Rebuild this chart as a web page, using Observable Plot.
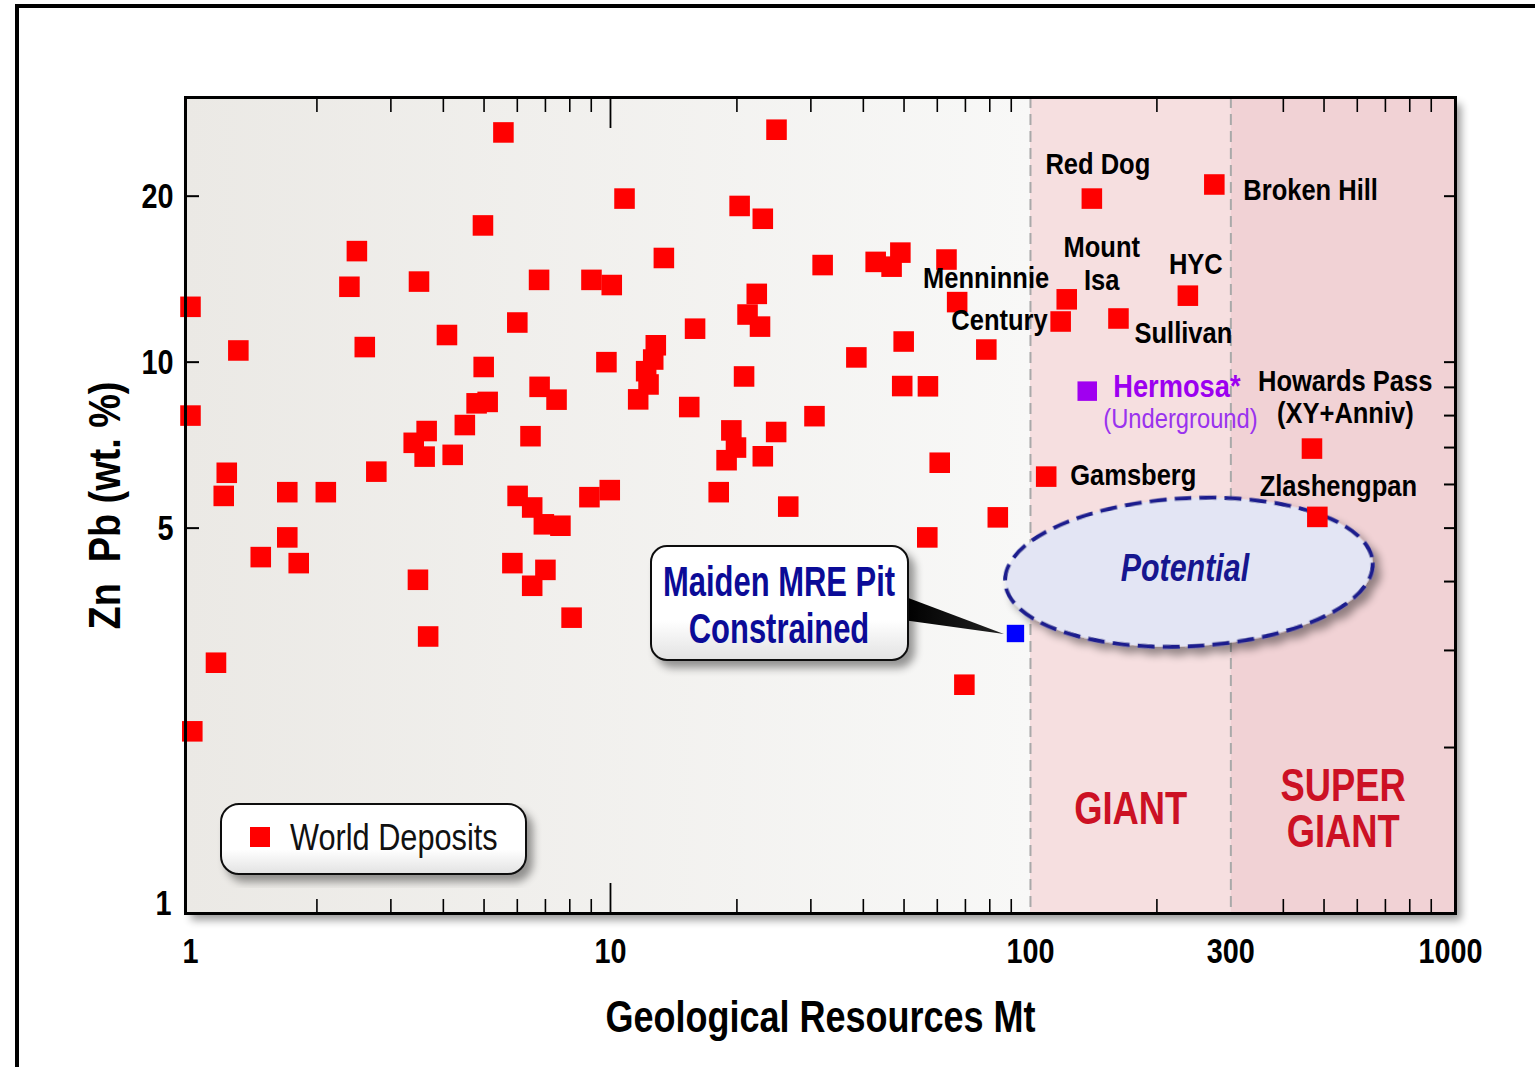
<!DOCTYPE html>
<html><head><meta charset="utf-8">
<script src="https://cdn.jsdelivr.net/npm/d3@7"></script>
<script src="https://cdn.jsdelivr.net/npm/@observablehq/plot@0.6"></script>
<style>
html,body{margin:0;padding:0;background:#fff;overflow:hidden;width:1535px;height:1067px;}
#chart{position:absolute;left:0;top:0;}
#outer{position:absolute;left:15px;top:4px;width:1700px;height:1300px;border-top:4px solid #000;border-left:4px solid #000;box-sizing:border-box;pointer-events:none;}
svg text{white-space:pre;}
</style></head><body>
<div id="chart"></div><div id="outer"></div>
<script>
// ---------- data ----------
const worldRes = [1.0,1.0,1.01,1.15,1.22,1.2,1.3,1.47,1.7,1.7,1.81,2.1,2.39,2.49,2.6,2.77,3.5,3.48,3.4,3.68,3.65,3.61,4.08,4.21,4.5,4.8,5.1,4.99,4.97,5.56,6.0,5.84,6.01,6.51,6.45,6.51,6.94,7.0,7.6,6.78,6.76,7.44,8.08,9.01,8.91,9.78,9.96,10.07,10.8,11.64,12.32,12.16,12.64,12.82,13.4,15.9,15.4,18.1,18.9,19.4,19.9,20.3,20.8,21.2,22.3,22.7,23.05,23.05,24.85,24.8,26.5,30.6,32.0,38.5,42.8,46.7,49.0,49.9,49.5,56.8,57.0,60.8,63.1,69.6,78.5,83.6];
const worldGrade = [12.6,8.0,2.14,2.85,6.3,5.72,10.5,4.43,4.81,5.81,4.32,5.81,13.7,15.9,10.65,6.33,14.0,4.03,7.14,3.18,7.5,6.74,11.2,6.79,7.69,8.42,8.47,9.8,17.7,26.1,11.8,4.32,5.72,3.93,7.34,5.45,5.08,4.2,5.05,9.02,14.1,8.55,3.44,14.1,5.69,10.0,5.86,13.8,19.8,8.56,9.11,9.63,10.11,10.73,15.45,11.5,8.29,5.81,6.64,7.52,7.0,19.2,9.42,12.2,13.3,11.6,18.2,6.75,26.4,7.47,5.47,7.98,15.0,10.2,15.2,14.9,15.8,10.9,9.05,4.81,9.04,6.57,15.35,2.6,10.54,5.23];
const namedNames = ["Red Dog","Broken Hill","Mount Isa","Century","Sullivan","HYC","Menninnie","Gamsberg","Howards Pass","Zlashengpan"];
const namedRes = [140,274,122,118,162,237,66.9,109,468,482];
const namedGrade = [19.8,21.0,13.0,11.85,12.0,13.2,12.85,6.2,6.97,5.24];
const hermosaName = "Hermosa*";
const hermosaRes = [136.5];
const hermosaGrade = [8.86];
const maidenLines = ["Maiden MRE Pit","Constrained"];
const maidenRes = [92.1];
const maidenGrade = [3.22];
const xTickLabels = [1,10,100,300,1000];
const yTickLabels = [5,10,20];
const yBottomLabel = [1];
const xMinorTicks = [2,3,4,5,6,7,8,9,20,30,40,50,60,70,80,90,200,400,500,600,700,800,900];
const xMajorTicks = [10];
const yRightTicks = [2,3,4,5,6,7,8,9,10,20];
const sizeClassNames = ["GIANT","SUPER\nGIANT"];
const sizeClassBounds = [100,300];
const potentialCenter = [239,4.15];
const xDomain = [0.973,1028];
const yDomain = [1,30.2];

// ---------- tables built from the arrays ----------
const world = worldRes.map((r,i)=>({res:r,grade:worldGrade[i]}));
const named = namedNames.map((n,i)=>({name:n,res:namedRes[i],grade:namedGrade[i]}));
const deposits = world.concat(named);
const hermosa = [{name:hermosaName,res:hermosaRes[0],grade:hermosaGrade[0]}];
const maiden = [{res:maidenRes[0],grade:maidenGrade[0]}];
const classTable = [
  {name:sizeClassNames[0], lo:sizeClassBounds[0], hi:sizeClassBounds[1]},
  {name:sizeClassNames[1], lo:sizeClassBounds[1], hi:xDomain[1]}
];
const byName = Object.fromEntries(named.map(d=>[d.name,d]));

// label layout (styling / offsets only)
const labelLayout = [
  {ref:"Red Dog", text:"Red Dog", dx:6, dy:-34, anchor:"middle"},
  {ref:"Broken Hill", text:"Broken Hill", dx:29, dy:6, anchor:"start"},
  {ref:"Mount Isa", text:"Mount", dx:35, dy:-52, anchor:"middle"},
  {ref:"Mount Isa", text:"Isa", dx:35, dy:-19, anchor:"middle"},
  {ref:"Menninnie", text:"Menninnie", dx:29, dy:-23, anchor:"middle"},
  {ref:"Century", text:"Century", dx:-13, dy:-1, anchor:"end"},
  {ref:"Sullivan", text:"Sullivan", dx:16, dy:15, anchor:"start"},
  {ref:"HYC", text:"HYC", dx:8, dy:-31, anchor:"middle"},
  {ref:"Gamsberg", text:"Gamsberg", dx:24, dy:-1, anchor:"start"},
  {ref:"Howards Pass", text:"Howards Pass", dx:-54, dy:-67, anchor:"start"},
  {ref:"Howards Pass", text:"(XY+Anniv)", dx:-35, dy:-35, anchor:"start"},
  {ref:"Zlashengpan", text:"Zlashengpan", dx:21, dy:-30, anchor:"middle"}
];

const FONT = "'Liberation Sans', Arial, Helvetica, sans-serif";
const RED = "#ff0000";
const tag = s => () => s;

const marks = [
  Plot.rect([0], {x1: ()=>xDomain[0], x2: ()=>sizeClassBounds[0], fill: "url(#leftGrad)"}),
  Plot.rect([classTable[0]], {x1:"lo", x2:"hi", fill:"#f6dfe0"}),
  Plot.rect([classTable[1]], {x1:"lo", x2:"hi", fill:"#f1d2d5"}),
  Plot.ruleX(sizeClassBounds, {stroke:"#a9a9a9", strokeWidth:2, strokeDasharray:"11,6"}),
  Plot.dot(deposits, {x:"res", y:"grade", symbol:"square", r:11.6, fill:RED, ariaLabel:tag("world-dot")}),
  Plot.dot(hermosa, {x:"res", y:"grade", symbol:"square", r:11.0, fill:"#a000f0"}),
  Plot.dot(maiden, {x:"res", y:"grade", symbol:"square", r:9.8, fill:"#0000ff"}),
  ...labelLayout.map(l => Plot.text([byName[l.ref]], {x:"res", y:"grade", text:tag(l.text), dx:l.dx, dy:l.dy, textAnchor:l.anchor, fontSize:29, fontWeight:"bold", fill:"#000", ariaLabel:tag("deposit-label")})),
  Plot.text(hermosa, {x:"res", y:"grade", text:"name", dx:26, dy:-4, textAnchor:"start", fontSize:31, fontWeight:"bold", fill:"#9c00f0", ariaLabel:tag("deposit-label")}),
  Plot.text(hermosa, {x:"res", y:"grade", text:tag("(Underground)"), dx:16, dy:28, textAnchor:"start", fontSize:27, fontWeight:"normal", fill:"#9a33ee", ariaLabel:tag("deposit-label")}),
  Plot.text(classTable, {x: d=>Math.sqrt(d.lo*d.hi), frameAnchor:"bottom", lineAnchor:"middle", dy:-104, text:"name", fill:"#cc1124", fontSize:46, fontWeight:"bold", lineHeight:1.0, ariaLabel:tag("class-label")}),
  // axes
  Plot.axisX(xTickLabels, {anchor:"bottom", tickSize:0, tickPadding:24, fontSize:36, fontWeight:"bold", tickFormat:d=>String(d), label:null}),
  Plot.axisX(xMinorTicks, {anchor:"bottom", tickSize:-14, fill:"none", strokeWidth:1.6}),
  Plot.axisX(xMajorTicks, {anchor:"bottom", tickSize:-30, fill:"none", strokeWidth:1.8}),
  Plot.axisX(xMinorTicks, {anchor:"top", tickSize:-14, fill:"none", strokeWidth:1.6}),
  Plot.axisX(xMajorTicks, {anchor:"top", tickSize:-30, fill:"none", strokeWidth:1.8}),
  Plot.axisY(yTickLabels, {anchor:"left", tickSize:0, tickPadding:12, fontSize:36, fontWeight:"bold", tickFormat:d=>String(d), label:null}),
  Plot.axisY(yBottomLabel, {anchor:"left", tickSize:0, tickPadding:14, dy:-10, fontSize:36, fontWeight:"bold", tickFormat:d=>String(d), label:null}),
  Plot.axisY(yTickLabels, {anchor:"left", tickSize:-14, fill:"none", strokeWidth:2}),
  Plot.axisY(yRightTicks, {anchor:"right", tickSize:-12, fill:"none", strokeWidth:2}),
  Plot.text(["Geological Resources Mt"], {frameAnchor:"bottom", lineAnchor:"middle", textAnchor:"middle", dy:104, fontSize:45, fontWeight:"bold", fill:"#000", ariaLabel:tag("axis-title")}),
  Plot.text(["Zn  Pb (wt. %)"], {frameAnchor:"left", lineAnchor:"middle", textAnchor:"middle", dx:-80, rotate:-90, fontSize:44, fontWeight:"bold", fill:"#000", ariaLabel:tag("y-title")}),
  Plot.frame({stroke:"#000", strokeWidth:3})
];

const chart = Plot.plot({
  width:1535, height:1067,
  marginLeft:185, marginRight:80, marginTop:97, marginBottom:154,
  x:{type:"log", domain:xDomain, label:null},
  y:{type:"log", domain:yDomain, label:null},
  style:{fontFamily:FONT, background:"transparent", overflow:"visible", color:"#000"},
  marks
});
document.getElementById("chart").appendChild(chart);

// ---------- post-processing: defs, shadows, condensed type, annotations ----------
const svg = d3.select(chart);
const xs = chart.scale("x"), ys = chart.scale("y");
svg.insert("defs", ":first-child").html(`
<linearGradient id="leftGrad" x1="0" x2="1" y1="0" y2="0">
  <stop offset="0" stop-color="#ebe9e5"/><stop offset="1" stop-color="#f8f8f7"/>
</linearGradient>
<linearGradient id="boxGrad" x1="0" x2="0" y1="0" y2="1">
  <stop offset="0" stop-color="#ffffff"/><stop offset="0.65" stop-color="#ffffff"/><stop offset="1" stop-color="#e2e2e2"/>
</linearGradient>
<linearGradient id="wedgeGrad" x1="0" x2="1" y1="0" y2="0">
  <stop offset="0" stop-color="#000"/><stop offset="1" stop-color="#222"/>
</linearGradient>
<filter id="shadow" x="-10%" y="-10%" width="125%" height="130%">
  <feGaussianBlur in="SourceAlpha" stdDeviation="4"/>
  <feOffset dx="6" dy="7" result="o"/>
  <feComponentTransfer><feFuncA type="linear" slope="0.4"/></feComponentTransfer>
  <feMerge><feMergeNode/><feMergeNode in="SourceGraphic"/></feMerge>
</filter>`);

const [fx0, fx1] = xs.range, [fy1, fy0] = ys.range;
svg.insert("rect", "defs + *")
  .attr("x", fx0).attr("y", fy0).attr("width", fx1 - fx0).attr("height", fy1 - fy0)
  .attr("fill", "#fff").attr("filter", "url(#shadow)");

function squeeze(sel, k){
  sel.each(function(){
    const t = this.getAttribute("transform") || "";
    this.setAttribute("transform", t + ` scale(${k},1)`);
  });
}
squeeze(svg.selectAll('g[aria-label="x-axis tick label"] text, g[aria-label="y-axis tick label"] text'), 0.8);
squeeze(svg.selectAll('text[aria-label="axis-title"]'), 0.8);
squeeze(svg.selectAll('text[aria-label="y-title"]'), 0.86);
squeeze(svg.selectAll('text[aria-label="deposit-label"]'), 0.88);
squeeze(svg.selectAll('text[aria-label="class-label"]'), 0.79);

// Potential ellipse, behind the deposit squares
const dotNode = svg.select('[aria-label="world-dot"]').node();
const dotGroup = dotNode ? dotNode.parentNode : null;
const pcx = xs.apply(potentialCenter[0]), pcy = ys.apply(potentialCenter[1]);
const pot = dotGroup ? d3.select(dotGroup.parentNode).insert("g", () => dotGroup) : svg.append("g");
pot.append("ellipse").attr("cx", pcx).attr("cy", pcy).attr("rx", 184).attr("ry", 74)
  .attr("transform", `rotate(-3 ${pcx} ${pcy})`)
  .attr("fill", "#e3e5f4").attr("stroke", "#1a1f8e").attr("stroke-width", 4)
  .attr("stroke-dasharray", "17,8").attr("filter", "url(#shadow)");
pot.append("text").attr("transform", `translate(${pcx - 4},${pcy + 9}) scale(0.8,1)`)
  .attr("text-anchor", "middle").attr("font-size", 38).attr("font-weight", "bold")
  .attr("font-style", "italic").attr("fill", "#16168f").attr("font-family", FONT).text("Potential");

// Callout for the maiden MRE
const mx = xs.apply(maiden[0].res), my = ys.apply(maiden[0].grade);
const call = svg.append("g");
call.append("polygon").attr("points", `${903},${596} ${903},${620} ${mx - 11},${my + 1}`).attr("fill", "url(#wedgeGrad)");
call.append("rect").attr("x", 651).attr("y", 546).attr("width", 257).attr("height", 114).attr("rx", 16)
  .attr("fill", "url(#boxGrad)").attr("stroke", "#111").attr("stroke-width", 2).attr("filter", "url(#shadow)");
maidenLines.forEach((s, i) => {
  call.append("text").attr("transform", `translate(779,${596 + i * 47}) scale(0.72,1)`)
    .attr("text-anchor", "middle").attr("font-size", 43).attr("font-weight", "bold")
    .attr("fill", "#0b0b97").attr("font-family", FONT).text(s);
});

// Legend box
const leg = svg.append("g");
leg.append("rect").attr("x", 221).attr("y", 804).attr("width", 305).attr("height", 70).attr("rx", 18)
  .attr("fill", "url(#boxGrad)").attr("stroke", "#111").attr("stroke-width", 2).attr("filter", "url(#shadow)");
leg.append("rect").attr("x", 250).attr("y", 827).attr("width", 20).attr("height", 20).attr("fill", RED);
leg.append("text").attr("transform", "translate(290,850) scale(0.83,1)")
  .attr("font-size", 37).attr("fill", "#111").attr("text-anchor", "start").attr("font-family", FONT).text("World Deposits");
</script></body></html>
